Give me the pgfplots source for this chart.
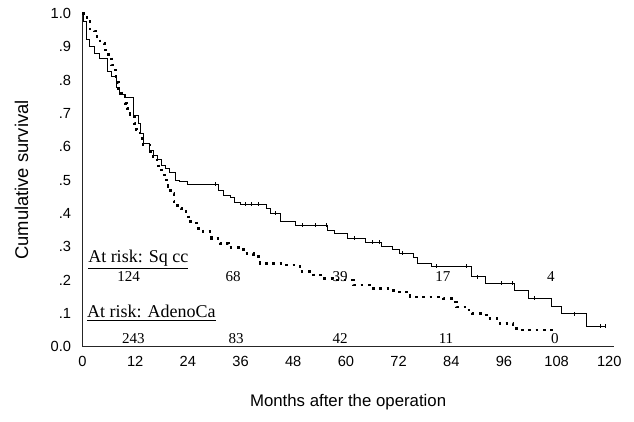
\documentclass[border=0pt]{standalone}
\usepackage{fontspec}
\setmainfont{Liberation Sans}
\newfontfamily\timesfont{Liberation Serif}
\usepackage{pgfplots}
\pgfplotsset{compat=1.18}
\begin{document}
\begin{tikzpicture}
\useasboundingbox (-61.875pt,-55.65pt) rectangle (413.625pt,260.1pt);
\begin{axis}[
  scale only axis, width=398.4pt, height=250.125pt,
  xmin=0, xmax=121, ymin=0, ymax=1,
  axis x line*=bottom, axis y line*=left,
  axis line style={line width=0.8pt, black!85, -},
  xtick={0,12,24,36,48,60,72,84,96,108,120},
  ytick={0,0.1,0.2,0.3,0.4,0.5,0.6,0.7,0.8,0.9,1},
  yticklabels={0.0,.1,.2,.3,.4,.5,.6,.7,.8,.9,1.0},
  major tick length=0pt,
  tick label style={font=\fontsize{11}{13}\selectfont},
  /pgf/number format/assume math mode=true,
  xticklabel style={yshift=-3.8pt},
  yticklabel style={xshift=-5pt},
  xlabel={Months after the operation},
  ylabel={Cumulative survival},
  xlabel style={font=\fontsize{12.6}{15}\selectfont, at={(axis description cs:0.5,-0.1805)}, anchor=base},
  ylabel style={font=\fontsize{13.8}{16}\selectfont, at={(axis description cs:-0.1022,0.5)}, anchor=base},
  clip=false,
]
% Sq cc (solid step curve)
\addplot[const plot, black, line width=0.7pt] coordinates {
(0,1.0) (0.2,0.977) (0.8,0.922) (1.7,0.90) (2.8,0.881) (3.8,0.864)
(5.6,0.827) (6.5,0.812) (7.8,0.779) (8.5,0.758) (9.7,0.747) (11.6,0.695)
(12.7,0.67) (13.3,0.64) (13.9,0.61) (15.2,0.59) (16.1,0.575) (17,0.562)
(17.9,0.545) (18.8,0.535) (19.9,0.522) (21.1,0.50) (22.2,0.495) (24,0.488)
(30.9,0.47) (32,0.455) (33.6,0.449) (34.7,0.434) (35.9,0.428) (42,0.416)
(42.9,0.401) (45,0.377) (48.4,0.365) (55.9,0.35) (57.5,0.341) (60.3,0.326)
(64.4,0.314) (68.2,0.302) (70.5,0.293) (72.1,0.281) (75.3,0.269) (76.4,0.251)
(79.6,0.242) (88.5,0.21) (91.7,0.191) (98.5,0.17) (101.5,0.146) (106.9,0.12)
(109,0.099) (114.9,0.062) (119,0.062)
};
% Sq cc censored
\addplot[only marks, mark=|, mark size=1.4pt, black, line width=0.5pt] coordinates {
(30.2,0.488) (37,0.428) (38.5,0.428) (40,0.428) (44,0.401) (50,0.365)
(53,0.365) (55.5,0.365) (62,0.326) (66,0.314) (67.5,0.314) (72.9,0.281)
(80.5,0.242) (87.5,0.242) (90,0.21) (95.5,0.191) (98,0.191) (103,0.146)
(112,0.099) (118,0.062) (119,0.062)
};
% AdenoCa (dotted step curve)
\addplot[const plot, black, line width=1.9pt, dash pattern=on 1.9pt off 3.6pt] coordinates {
(0,1.0) (0.9,0.995) (1.0,0.975) (1.7,0.953) (2.7,0.947) (3,0.93) (4,0.91)
(5,0.89) (5.9,0.87) (6.6,0.845) (7,0.83) (7.6,0.81) (8,0.793) (8.2,0.77)
(8.9,0.757) (9.3,0.75) (9.7,0.73) (10.1,0.715) (10.4,0.70) (10.8,0.695)
(11.8,0.67) (12.3,0.65) (13.1,0.625) (13.8,0.605) (15.4,0.585) (16.1,0.56)
(17.3,0.535) (18,0.515) (18.8,0.50) (19.5,0.48) (20.1,0.46) (20.8,0.435)
(21.6,0.415) (22.6,0.41) (23.6,0.395) (24.1,0.375) (26,0.355) (27.5,0.345)
(29.4,0.325) (31.3,0.31) (33.2,0.298) (35.5,0.292) (37,0.28) (38.9,0.27)
(40.4,0.25) (45.7,0.245) (49.5,0.225) (52.6,0.215) (54.8,0.205) (57.1,0.20)
(61.7,0.185) (66.2,0.175) (70.8,0.165) (74.6,0.15) (82.2,0.145) (84.5,0.135)
(85.2,0.12) (87.5,0.11) (88.7,0.10) (90.9,0.095) (92.1,0.085) (94.4,0.08)
(95.1,0.07) (98.1,0.065) (98.9,0.05) (107.5,0.05)
};
% at-risk tables
\node[anchor=base west, inner sep=0pt, font=\timesfont\fontsize{13.5}{16}\selectfont] at (axis cs:1.25,0.254) {\underline{At risk: Sq cc}};
\node[anchor=base west, inner sep=0pt, font=\timesfont\fontsize{13.5}{16}\selectfont] at (axis cs:1.0,0.0864) {\underline{At risk: AdenoCa}};
\begin{scope}[every node/.style={anchor=base, inner sep=0pt, font=\timesfont\fontsize{11.3}{13}\selectfont}]
\node at (axis cs:10.5,0.197) {124};
\node at (axis cs:34.3,0.197) {68};
\node at (axis cs:58.7,0.197) {39};
\node at (axis cs:82.1,0.197) {17};
\node at (axis cs:106.7,0.197) {4};
\node at (axis cs:11.6,0.011) {243};
\node at (axis cs:35,0.011) {83};
\node at (axis cs:58.7,0.011) {42};
\node at (axis cs:82.8,0.011) {11};
\node at (axis cs:107.6,0.011) {0};
\end{scope}
\end{axis}
\end{tikzpicture}
\end{document}
